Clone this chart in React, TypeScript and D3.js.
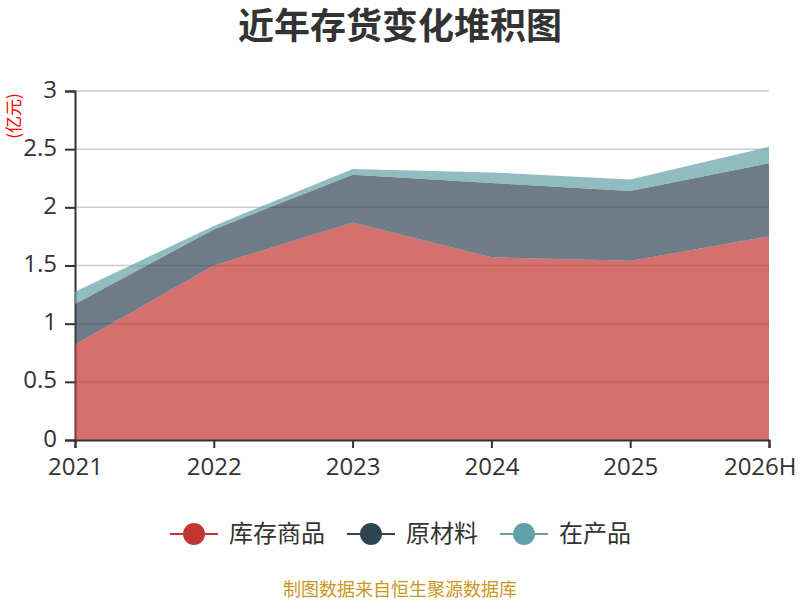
import { useEffect, useRef } from "react";
import * as d3 from "d3";

const years = ["2021", "2022", "2023", "2024", "2025", "2026H"];
const seriesNames = ["库存商品", "原材料", "在产品"];
const inventoryGoods = [0.82, 1.5, 1.87, 1.57, 1.54, 1.75];
const rawMaterials = [0.35, 0.31, 0.41, 0.64, 0.6, 0.63];
const workInProgress = [0.105, 0.03, 0.05, 0.09, 0.1, 0.14];
const seriesColors = ["#c23531", "#2f4554", "#61a0a8"];
const yTicks = [0, 0.5, 1, 1.5, 2, 2.5, 3];

const FONT = "'Microsoft YaHei', 'Noto Sans CJK SC', sans-serif";
const NUM_FONT = "'Open Sans', 'Noto Sans CJK SC', sans-serif";

export default function App() {
  const svgRef = useRef<SVGSVGElement | null>(null);

  useEffect(() => {
    if (!svgRef.current) return;
    const W = 800;
    const H = 600;
    const margin = { top: 91, right: 31, bottom: 160, left: 75 };
    const width = W - margin.left - margin.right;
    const height = H - margin.top - margin.bottom;

    d3.select(svgRef.current).selectAll("*").remove();
    const svg = d3.select(svgRef.current).attr("width", W).attr("height", H);

    // Title
    svg
      .append("text")
      .attr("x", W / 2)
      .attr("y", 39)
      .attr("text-anchor", "middle")
      .style("font-family", FONT)
      .style("font-size", "36px")
      .style("font-weight", "700")
      .style("fill", "#333")
      .text("近年存货变化堆积图");

    const g = svg
      .append("g")
      .attr("transform", `translate(${margin.left},${margin.top})`);

    const xScale = d3
      .scalePoint<string>()
      .domain(years)
      .range([0, width]);

    const yScale = d3.scaleLinear().domain([0, 3]).range([height, 0]);

    // Grid lines
    g.selectAll("line.grid")
      .data(yTicks.filter((t) => t > 0))
      .join("line")
      .attr("class", "grid")
      .attr("x1", 0)
      .attr("x2", width)
      .attr("y1", (d) => yScale(d))
      .attr("y2", (d) => yScale(d))
      .attr("stroke", "#ccc")
      .attr("stroke-width", 1.5);

    // Y axis
    const yAxis = d3
      .axisLeft(yScale)
      .tickValues(yTicks)
      .tickSize(10)
      .tickPadding(8)
      .tickFormat((d) => `${d}`);
    const yG = g.append("g").call(yAxis);
    yG.select(".domain").attr("stroke", "#333").attr("stroke-width", 2);
    yG.selectAll(".tick line").attr("stroke", "#333").attr("stroke-width", 2);
    yG.selectAll("text")
      .attr("dy", "0.25em")
      .style("font-family", NUM_FONT)
      .style("font-size", "24px")
      .style("fill", "#333");

    // Stacked data
    const rows = years.map((y, i) => ({
      year: y,
      [seriesNames[0]]: inventoryGoods[i],
      [seriesNames[1]]: rawMaterials[i],
      [seriesNames[2]]: workInProgress[i],
    }));
    const stacked = d3.stack<any>().keys(seriesNames)(rows);

    const area = d3
      .area<any>()
      .x((d) => xScale(d.data.year) || 0)
      .y0((d) => yScale(d[0]))
      .y1((d) => yScale(d[1]));

    g.selectAll("path.area")
      .data(stacked)
      .join("path")
      .attr("class", "area")
      .attr("d", (d) => area(d) || "")
      .attr("fill", (_, i) => seriesColors[i])
      .attr("fill-opacity", 0.7);

    // X axis
    const xAxis = d3.axisBottom(xScale).tickSize(8).tickPadding(10);
    const xG = g.append("g").attr("transform", `translate(0,${height})`).call(xAxis);
    xG.select(".domain").attr("stroke", "#333").attr("stroke-width", 2);
    xG.selectAll(".tick line").attr("stroke", "#333").attr("stroke-width", 2);
    xG.selectAll("text")
      .style("font-family", NUM_FONT)
      .style("font-size", "24px")
      .style("fill", "#333");
    // keep the last label inside the canvas
    xG.selectAll<SVGTextElement, string>("text")
      .filter((d) => d === years[years.length - 1])
      .attr("text-anchor", "end")
      .attr("x", 27);

    // Y axis name
    svg
      .append("text")
      .attr("transform", `translate(20,116) rotate(-90)`)
      .attr("text-anchor", "middle")
      .style("font-family", FONT)
      .style("font-size", "17px")
      .style("fill", "#ff0000")
      .text("(亿元)");

    // Legend
    const legendX = [170, 347, 500];
    const legendY = 534;
    const legend = svg
      .selectAll("g.legend")
      .data(seriesNames)
      .join("g")
      .attr("class", "legend")
      .attr("transform", (_, i) => `translate(${legendX[i]},${legendY})`);
    legend
      .append("line")
      .attr("x1", 0)
      .attr("x2", 48)
      .attr("y1", 0)
      .attr("y2", 0)
      .attr("stroke", (_, i) => seriesColors[i])
      .attr("stroke-width", 2);
    legend
      .append("circle")
      .attr("cx", 24)
      .attr("cy", 0)
      .attr("r", 11)
      .attr("fill", (_, i) => seriesColors[i]);
    legend
      .append("text")
      .attr("x", 59)
      .attr("y", 0)
      .attr("dy", "0.35em")
      .style("font-family", FONT)
      .style("font-size", "24px")
      .style("fill", "#333")
      .text((d) => d);

    // Footer
    svg
      .append("text")
      .attr("x", W / 2)
      .attr("y", 596)
      .attr("text-anchor", "middle")
      .style("font-family", FONT)
      .style("font-size", "18px")
      .style("fill", "#c9961e")
      .text("制图数据来自恒生聚源数据库");
  }, []);

  return (
    <div style={{ position: "absolute", left: 0, top: 0, width: 800, height: 600 }}>
      <svg ref={svgRef} style={{ display: "block" }} />
    </div>
  );
}
